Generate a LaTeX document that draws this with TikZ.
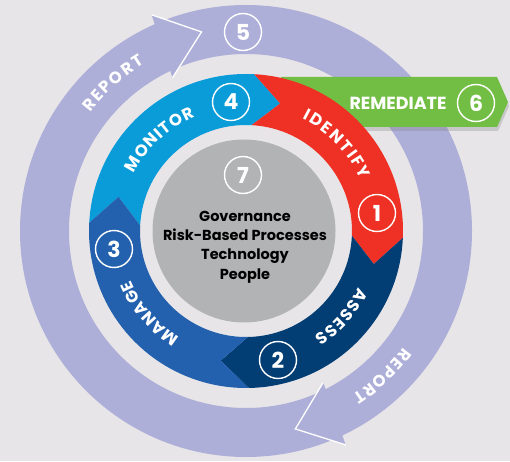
\documentclass[tikz,border=0pt]{standalone}
\usepackage{fontspec}
\setmainfont{Poppins}
\usetikzlibrary{decorations.text,shadows}

\definecolor{bggray}{HTML}{E7E5E8}
\definecolor{reportlav}{HTML}{ADAFD9}
\definecolor{monitorblue}{HTML}{0A9CD8}
\definecolor{identifyred}{HTML}{EE3124}
\definecolor{assessnavy}{HTML}{023D74}
\definecolor{manageblue}{HTML}{2361AE}
\definecolor{remgreen}{HTML}{72BE44}
\definecolor{coregray}{HTML}{B2B3B5}

% ring radii (inner, middle, outer)
\newcommand\rIn{106}
\newcommand\rMid{132}
\newcommand\rOut{157}
\newcommand\lblfont{\fontsize{16.5}{16.5}\selectfont\bfseries}

% one chevron part of the inner ring: colour, start angle, end angle
\newcommand\ringpart[3]{%
  \fill[#1] (#2:\rOut) arc[start angle=#2, end angle=#3, radius=\rOut]
    -- (#3-12:\rMid) -- (#3:\rIn)
    arc[start angle=#3, end angle=#2, radius=\rIn]
    -- (#2-12:\rMid) -- cycle;}

% white label bent on an arc: from angle, to angle, radius, text
\newcommand\arclabel[4]{%
  \path[decorate,decoration={text along path,text={|\lblfont|#4},
    text color=white,text align={fit to path}}]
    (#1:#3) arc[start angle=#1, end angle=#2, radius=#3];}

\begin{document}
\begin{tikzpicture}[x=1pt,y=1pt,
  numc/.style={circle,draw=white,line width=1.4pt,text=white,minimum size=37pt,
    inner sep=0pt,font=\fontsize{22}{22}\selectfont\bfseries}]
  \fill[bggray] (0,0) rectangle (510,461);

  \begin{scope}[shift={(246,230)}]
    % outer REPORT ring with its two heads
    \fill[reportlav,even odd rule] (0,0) circle[radius=226] (0,0) circle[radius=177];
    \foreach \t in {102.6,-76}{
      \fill[reportlav] (\t+11:236) -- (\t:204) -- (\t+13:170) -- cycle;
      \draw[white,line width=1.3pt] (\t+11:236) -- (\t:204) -- (\t+13:170);
    }
  \end{scope}

  % REMEDIATE banner
  \fill[remgreen,drop shadow={shadow xshift=1pt,shadow yshift=-4pt,opacity=0.3}]
    (281,384) -- (497,384) -- (508,359) -- (497,334) -- (281,334) -- cycle;
  \node[text=white,font=\fontsize{17.5}{17.5}\selectfont\bfseries] (remtxt) at (398,358) {REMEDIATE};
  \node[numc] (n6) at (476,358) {6};

  \begin{scope}[shift={(246,230)}]
    \ringpart{monitorblue}{177}{87}
    \ringpart{identifyred}{87}{-2.5}
    \ringpart{assessnavy}{-2.5}{-89}
    \ringpart{manageblue}{-89}{-183}

    \arclabel{153}{114}{125.5}{MONITOR}
    \arclabel{63.5}{24}{125.5}{IDENTIFY}
    \arclabel{-26.5}{-57}{125.5}{ASSESS}
    \arclabel{238}{203}{125.5}{MANAGE}
    \arclabel{142.7}{121.2}{195.5}{REPORT}
    \arclabel{-36.5}{-57}{195.5}{REPORT}
  \end{scope}

  % core
  \fill[coregray] (244,230) circle[radius=91.5];
  \node[align=center,font=\fontsize{14.5}{19.3}\selectfont\bfseries] (core) at (245,214)
    {Governance\\Risk-Based Processes\\Technology\\People};

  \node[numc] (n1) at (377,248) {1};
  \node[numc] (n2) at (278,101) {2};
  \node[numc] (n3) at (114,212) {3};
  \node[numc] (n4) at (231,359) {4};
  \node[numc] (n5) at (243,429) {5};
  \node[numc] (n7) at (243,286) {7};
\end{tikzpicture}
\end{document}
